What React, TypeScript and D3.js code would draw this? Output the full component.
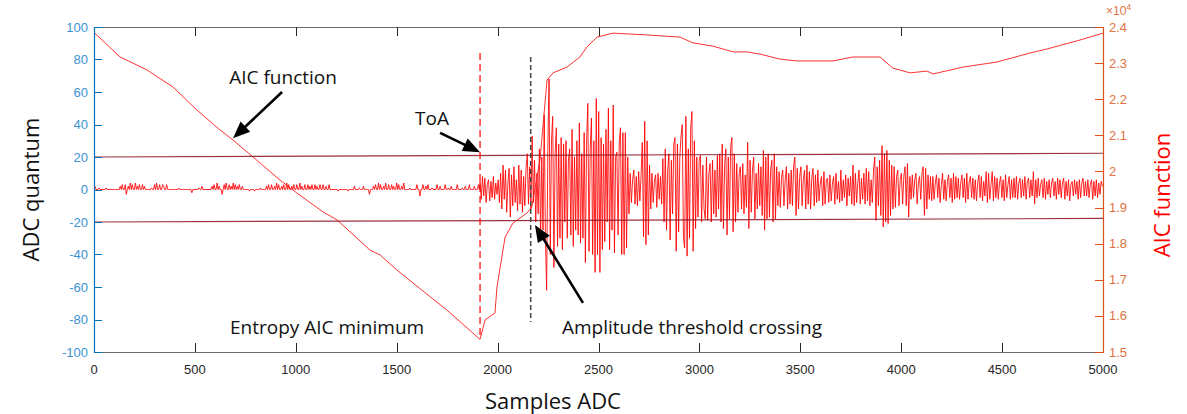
import React from "react";
import * as d3 from "d3";

// ---------- data ----------
const X_TICKS = [0, 500, 1000, 1500, 2000, 2500, 3000, 3500, 4000, 4500, 5000];
const LEFT_TICKS = [-100, -80, -60, -40, -20, 0, 20, 40, 60, 80, 100];
const RIGHT_TICKS = [1.5, 1.6, 1.7, 1.8, 1.9, 2, 2.1, 2.2, 2.3, 2.4];

// pre-trigger noise (ADC quantum), one value every 5 samples from sample 0
const NOISE_START = 0;
const NOISE_STEP = 5;
const NOISE_VALUES = [
  1, 2, 0, 0, 0, 1, 0, 0, 0, 0, 0, 0, 1, 0, 0, 0, 0, 0, 0, 0,
  0, 0, 0, 0, 0, 0, 2, 0, 3, 0, 0, 3, -3, 0, 2, 0, 4, 0, 3, 0,
  0, 4, 0, 2, 0, 3, 0, 0, 3, 0, 2, 0, 0, 0, 0, 0, 0, 1, 0, 0,
  3, 0, 4, 0, 0, 3, 0, 0, 3, 2, 0, 0, 3, 0, 0, 0, 0, 0, 0, 0,
  0, 0, 0, 0, 1, 0, 0, 0, 0, 0, 0, 0, 0, 0, 0, 0, 0, -2, 0, 0,
  0, 0, 0, 0, 1, 0, 0, 2, 0, 0, 0, 0, 0, 0, 0, 0, 0, 2, 0, 3,
  0, 0, 4, 0, 2, 0, 0, -3, 0, 3, 0, 4, 0, 0, 3, 0, 2, 0, 4, 0,
  3, 0, 2, 0, 3, 0, 0, 2, 0, 0, 0, 0, 0, 0, -1, 0, 0, 0, 0, -1,
  0, 0, 0, 0, 0, 1, 0, 0, 0, 0, 0, 2, 0, 3, 0, 0, 3, 0, 0, 2,
  0, 4, 0, 3, 0, 0, 2, 0, 3, 0, 0, 4, 0, 3, 0, 0, 2, 0, 3, 0,
  0, 3, 0, 0, 4, 0, 2, 0, 0, 3, 0, 0, 3, 0, 2, 0, 3, 0, 0, 3,
  0, 2, 0, 0, 3, 0, 0, 3, 0, 0, 2, 0, 0, 3, 0, 0, 0, 0, 0, 0,
  0, 0, -1, 0, 0, 0, 0, 0, 0, 0, 0, 0, -1, 0, 0, 0, 0, 0, 2, 0,
  0, 0, 0, 1, 0, 0, 0, 2, 0, 0, 0, 0, 0, -3, 0, 0, 0, 2, 0, 3,
  0, 0, 4, 0, 3, 0, 0, 2, 0, 4, 0, 0, 3, 0, 0, 3, 0, 2, 0, 0,
  4, 0, 3, 0, 0, 2, 0, 4, 0, 0, 0, 0, 0, 1, 0, 0, 0, 0, 0, 0,
  3, 0, 0, -4, 0, 0, 3, 0, 0, 2, 0, 3, 0, 0, 0, 1, 0, 0, 0, 0,
  3, 0, 0, 2, 0, 0, 0, 0, 3, 0, 0, 1, 0, 0, 2, 0, 0, 0, 0, 0,
  3, 0, 0, 0, 0, 1, 0, 0, 2, 0, 0, 0, 3, 0, 0, 0, 0, 2, 0, 0,
  0, 3, 0,
];

// burst after time of arrival, one value every 6 samples from sample 1913
const BURST_START = 1913;
const BURST_STEP = 6;
const BURST_VALUES = [
  5, -6, 8, -4, 7, -8, 3, 6, -7, 5, -5, 8, -6, 4, -3, 6, -8,
  10, -12, 15, -6, 12, -14, 4, 13, -17, 9, -10, 14, -8, 6, -13, 15, -9,
  12, -14, 8, -10, 13, 22, -9, 14, -12, 33, -8, 18, -20, 10, -15, 25, -30,
  20, -25, 46, -30, -62, 25, 68, -40, 30, 45, -48, 22, 38, -35, 28, -30, 32,
  -37, 28, -20, 30, -30, 18, 25, -28, 37, -35, 20, -25, 30, -28, 41, -33, 22,
  -30, 35, -45, 30, 53, -38, 25, 44, -40, 30, -51, 56, -40, 48, -51, 32, -37,
  28, -32, 37, -20, 50, -37, 30, -25, 52, -39, 20, 23, -28, 30, 38, -40, 35,
  -40, 35, -36, 20, -15, 10, -8, 6, 12, -9, 8, -10, 11, -7, 9, 29, -29,
  42, -34, 30, -28, 15, -12, 10, -8, 5, 9, -11, 10, -6, 8, -9, 19, -20,
  25, -25, 12, 22, -31, 18, -15, 28, 32, -38, 28, -26, 20, 33, 40, -30, -36,
  45, -41, 25, -30, 38, 48, -38, 30, -24, 20, -17, 18, 21, -20, 15, -12, -18,
  20, -19, 10, 16, -20, 18, -15, 12, -17, 21, -12, 22, -20, 28, -24, 15, 25,
  -28, 20, -18, 26, 32, -26, 22, -20, 16, -14, 10, 14, -12, 16, -15, 9, -11,
  29, -24, 18, -14, 12, 20, -18, 10, -12, 16, -10, 14, -16, 24, -25, 20, -18,
  22, -17, 12, 18, -20, 22, -18, 14, -10, 11, -11, 8, 12, -10, 6, 14, -12,
  10, -9, 12, -10, 15, 20, -16, 13, -12, 8, 14, -10, 6, 12, -12, 15, -9,
  11, -12, 7, 13, -10, 9, -8, 12, -7, 4, 8, -10, 11, -9, 6, 7, -8,
  9, -7, 3, 8, -9, 10, -6, 5, -8, 12, -7, 6, -5, 9, -10, 7, -4,
  8, -9, 15, -10, 10, -8, 4, 12, -9, 7, -6, 10, -9, 13, -7, 11, -10,
  6, -8, 12, 20, -19, 14, -10, 18, -16, 27, -23, 22, -20, 24, -21, 18, -16,
  15, -12, 14, -11, 8, 12, -10, 6, 10, -9, 8, 14, -10, 16, -17, 8, -6,
  9, -5, 6, 10, -9, 4, 8, -6, 10, 14, -16, 13, -12, 9, -6, 8, -7,
  8, -6, 4, 9, -5, 7, -8, 3, 10, -6, 6, -7, 5, 9, -5, 7, -8,
  10, -6, 8, -5, 7, -6, 4, 9, -5, 7, -8, 10, -6, 5, 8, -5, 7,
  -6, 6, -7, 4, 9, -5, 8, -7, 5, -4, 11, -8, 10, -6, 3, 11, -7,
  8, -5, 7, -6, 4, 8, -5, 6, -7, 9, -5, 3, 8, -6, 6, -5, 7,
  -5, 8, -6, 4, 7, -5, 6, -4, 8, -6, 5, 7, -5, 6, -4, 11, -9,
  6, -5, 7, -4, 3, 6, -5, 7, -6, 5, -3, 6, -5, 4, 7, -4, 5,
  -6, 7, -3, 6, -5, 4, 7, -6, 5, -4, 6, -7, 3, 5, -4, 6, -3,
  5, -6, 6, -5, 4, 7, -4, 5, -4, 6, -5, 3, 6, -6, 5, -4, 6,
  -5, 4, -3, 5, 2,
];

// AIC function (x 10^4), right axis
const AIC_SAMPLES = [
  0, 129, 263, 391, 510, 624, 689, 788, 922, 1006, 1135, 1204, 1368, 1417, 1501,
  1581, 1749, 1913, 1938, 1987, 1997, 2037, 2076, 2146, 2170, 2210, 2245, 2275,
  2344, 2408, 2443, 2493, 2572, 2740, 2904, 2968, 3067, 3167, 3236, 3300, 3399,
  3484, 3662, 3761, 3895, 3959, 4044, 4128, 4158, 4306, 4475, 4638, 4722, 4886, 5000,
];
const AIC_VALUES = [
  2.385, 2.317, 2.281, 2.234, 2.170, 2.115, 2.087, 2.040, 1.976, 1.940, 1.888, 1.866, 1.782, 1.769, 1.727,
  1.691, 1.616, 1.535, 1.589, 1.608, 1.680, 1.818, 1.857, 1.885, 1.902, 2.032, 2.253, 2.273,
  2.289, 2.317, 2.345, 2.372, 2.383, 2.378, 2.372, 2.356, 2.347, 2.331, 2.331, 2.325, 2.311,
  2.306, 2.306, 2.317, 2.317, 2.286, 2.273, 2.278, 2.270, 2.289, 2.303, 2.328, 2.339, 2.364, 2.383,
];

// threshold lines (ADC quantum)
const THRESH_SAMPLES = [0, 5000];
const THRESH_UPPER = [20, 22.3];
const THRESH_LOWER = [-20, -17.8];

const TOA_SAMPLE = 1913;
const CROSS_SAMPLE = 2164;

// ---------- layout ----------
const W = 1187;
const H = 414;
const M = { left: 94, right: 1103, top: 27, bottom: 352 };

const TICK_FONT = "'Liberation Sans', Arial, Helvetica, sans-serif";
const LABEL_FONT = "'Open Sans', 'DejaVu Sans', sans-serif";

const LEFT_COLOR = "#0072BD";
const LEFT_TEXT = "#3b93d3";
const RIGHT_COLOR = "#D95319";
const RIGHT_TEXT = "#e0733f";

function Arrow({ x1, y1, x2, y2 }: { x1: number; y1: number; x2: number; y2: number }) {
  const dx = x2 - x1;
  const dy = y2 - y1;
  const len = Math.sqrt(dx * dx + dy * dy);
  const ux = dx / len;
  const uy = dy / len;
  const hl = 17;
  const hw = 7;
  const bx = x2 - ux * hl;
  const by = y2 - uy * hl;
  const px = -uy;
  const py = ux;
  const pts = `${x2},${y2} ${bx + px * hw},${by + py * hw} ${bx - px * hw},${by - py * hw}`;
  return (
    <g>
      <line x1={x1} y1={y1} x2={bx + ux * 2} y2={by + uy * 2} stroke="#000" strokeWidth={2.6} />
      <polygon points={pts} fill="#000" />
    </g>
  );
}

export default function App() {
  const x = d3.scaleLinear().domain([0, 5000]).range([M.left, M.right]);
  const yL = d3.scaleLinear().domain([-100, 100]).range([M.bottom, M.top]);
  const yR = d3.scaleLinear().domain([1.5, 2.4]).range([M.bottom, M.top]);

  const signal: [number, number][] = [
    ...NOISE_VALUES.map((v, i) => [NOISE_START + i * NOISE_STEP, v] as [number, number]),
    ...BURST_VALUES.map((v, i) => [BURST_START + i * BURST_STEP, v] as [number, number]),
  ];
  const lineL = d3
    .line<[number, number]>()
    .x((d) => x(d[0]))
    .y((d) => yL(d[1]));
  const lineR = d3
    .line<[number, number]>()
    .x((d) => x(d[0]))
    .y((d) => yR(d[1]));

  const aic: [number, number][] = AIC_SAMPLES.map((s, i) => [s, AIC_VALUES[i]]);
  const upper: [number, number][] = THRESH_SAMPLES.map((s, i) => [s, THRESH_UPPER[i]]);
  const lower: [number, number][] = THRESH_SAMPLES.map((s, i) => [s, THRESH_LOWER[i]]);

  const tick = 9;

  return (
    <svg
      width={W}
      height={H}
      style={{ position: "absolute", left: 0, top: 0, background: "#fff" }}
      xmlns="http://www.w3.org/2000/svg"
    >
      <rect x={0} y={0} width={W} height={H} fill="#fff" />
      <defs>
        <clipPath id="plot">
          <rect x={M.left} y={M.top} width={M.right - M.left} height={M.bottom - M.top} />
        </clipPath>
      </defs>

      {/* data */}
      <g clipPath="url(#plot)">
        <path d={lineL(signal) || ""} fill="none" stroke="#ff0000" strokeWidth={0.85} strokeLinejoin="round" />
        <path d={lineR(aic) || ""} fill="none" stroke="#ff1a1a" strokeWidth={0.9} />
        <path d={lineL(upper) || ""} fill="none" stroke="#8b0f1e" strokeWidth={1.2} strokeOpacity={0.85} />
        <path d={lineL(lower) || ""} fill="none" stroke="#8b0f1e" strokeWidth={1.2} strokeOpacity={0.85} />
      </g>

      {/* markers */}
      <line
        x1={x(TOA_SAMPLE)}
        x2={x(TOA_SAMPLE)}
        y1={yL(84)}
        y2={yL(-92)}
        stroke="#ff0000"
        strokeWidth={1.2}
        strokeDasharray="7,4"
      />
      <line
        x1={x(CROSS_SAMPLE)}
        x2={x(CROSS_SAMPLE)}
        y1={yL(81.5)}
        y2={yL(-81.5)}
        stroke="#444"
        strokeWidth={1.5}
        strokeDasharray="5,3"
      />

      {/* annotations */}
      <Arrow x1={x(932)} y1={yL(60)} x2={x(689)} y2={yL(31.5)} />
      <Arrow x1={x(1715)} y1={yL(34.8)} x2={x(1913)} y2={yL(23)} />
      <Arrow x1={x(2423)} y1={yL(-69.8)} x2={x(2185)} y2={yL(-21.8)} />
      <g fontFamily={LABEL_FONT} fontSize={19} fill="#111">
        <text x={x(937)} y={yL(69)} textAnchor="middle" dominantBaseline="central">
          AIC function
        </text>
        <text x={x(1675)} y={yL(44)} textAnchor="middle" dominantBaseline="central">
          ToA
        </text>
        <text x={x(674)} y={yL(-84.6)} textAnchor="start" dominantBaseline="central">
          Entropy AIC minimum
        </text>
        <text x={x(2319)} y={yL(-84.6)} textAnchor="start" dominantBaseline="central">
          Amplitude threshold crossing
        </text>
      </g>

      {/* box top / bottom */}
      <line x1={M.left} x2={M.right} y1={M.top + 0.5} y2={M.top + 0.5} stroke="#6b6b6b" strokeWidth={1} />
      <line x1={M.left} x2={M.right} y1={M.bottom + 0.5} y2={M.bottom + 0.5} stroke="#6b6b6b" strokeWidth={1} />

      {/* x ticks */}
      <g>
        {X_TICKS.map((t) => (
          <g key={t}>
            <line x1={Math.round(x(t)) + 0.5} x2={Math.round(x(t)) + 0.5} y1={M.bottom} y2={M.bottom - tick} stroke="#262626" strokeWidth={1} />
            <line x1={Math.round(x(t)) + 0.5} x2={Math.round(x(t)) + 0.5} y1={M.top} y2={M.top + tick} stroke="#262626" strokeWidth={1} />
            <text
              x={x(t)}
              y={M.bottom + 22}
              textAnchor="middle"
              fontFamily={TICK_FONT}
              fontSize={13}
              fill="#262626"
            >
              {t}
            </text>
          </g>
        ))}
      </g>

      {/* left axis */}
      <line x1={M.left + 0.5} x2={M.left + 0.5} y1={M.top} y2={M.bottom + 1} stroke={LEFT_COLOR} strokeWidth={1.2} />
      {LEFT_TICKS.map((t) => (
        <g key={t}>
          <line x1={M.left} x2={M.left + 8} y1={Math.round(yL(t)) + 0.5} y2={Math.round(yL(t)) + 0.5} stroke={LEFT_COLOR} strokeWidth={1} />
          <text
            x={M.left - 6}
            y={yL(t)}
            textAnchor="end"
            dominantBaseline="central"
            fontFamily={TICK_FONT}
            fontSize={13}
            fill={LEFT_TEXT}
          >
            {t}
          </text>
        </g>
      ))}

      {/* right axis */}
      <line x1={M.right + 0.5} x2={M.right + 0.5} y1={M.top} y2={M.bottom + 1} stroke={RIGHT_COLOR} strokeWidth={1.2} />
      {RIGHT_TICKS.map((t) => (
        <g key={t}>
          <line x1={M.right - 8} x2={M.right} y1={Math.round(yR(t)) + 0.5} y2={Math.round(yR(t)) + 0.5} stroke={RIGHT_COLOR} strokeWidth={1} />
          <text
            x={M.right + 6}
            y={yR(t)}
            textAnchor="start"
            dominantBaseline="central"
            fontFamily={TICK_FONT}
            fontSize={13}
            fill={RIGHT_TEXT}
          >
            {String(t)}
          </text>
        </g>
      ))}
      <text x={M.right + 3} y={M.top - 12} fontFamily={TICK_FONT} fontSize={12} fill={RIGHT_TEXT}>
        ×10
        <tspan dy={-5} fontSize={9}>
          4
        </tspan>
      </text>

      {/* axis titles */}
      <text
        transform={`translate(${30},${(M.top + M.bottom) / 2}) rotate(-90)`}
        textAnchor="middle"
        dominantBaseline="central"
        fontFamily={LABEL_FONT}
        fontSize={22}
        fill="#111"
      >
        ADC quantum
      </text>
      <text
        transform={`translate(${1161},${195}) rotate(-90)`}
        textAnchor="middle"
        dominantBaseline="central"
        fontFamily={LABEL_FONT}
        fontSize={22}
        fill="#ff0000"
      >
        AIC function
      </text>
      <text
        x={553}
        y={400}
        textAnchor="middle"
        dominantBaseline="central"
        fontFamily={LABEL_FONT}
        fontSize={22}
        fill="#111"
      >
        Samples ADC
      </text>
    </svg>
  );
}
